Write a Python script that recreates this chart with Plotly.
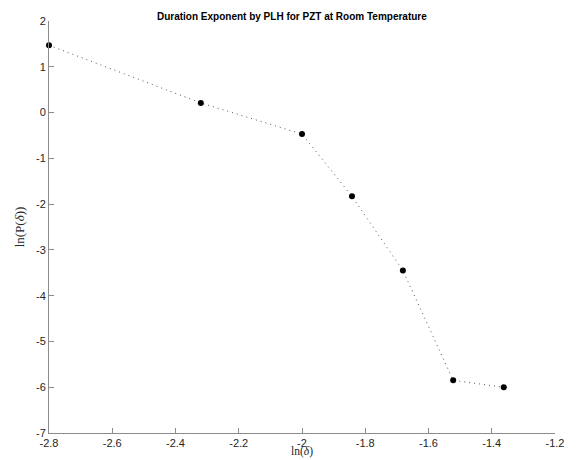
import plotly.graph_objects as go

# data
ln_delta = [-2.80, -2.32, -2.00, -1.842, -1.681, -1.522, -1.362]
ln_p = [1.47, 0.21, -0.47, -1.83, -3.45, -5.85, -6.00]

x_ticks = [-2.8, -2.6, -2.4, -2.2, -2.0, -1.8, -1.6, -1.4, -1.2]
x_ticklabels = ["-2.8", "-2.6", "-2.4", "-2.2", "-2", "-1.8", "-1.6", "-1.4", "-1.2"]
y_ticks = [2, 1, 0, -1, -2, -3, -4, -5, -6, -7]
y_ticklabels = ["2", "1", "0", "-1", "-2", "-3", "-4", "-5", "-6", "-7"]

fig = go.Figure()
# dotted connecting line, then the points on top
fig.add_trace(go.Scatter(
    x=ln_delta, y=ln_p,
    mode='lines',
    line=dict(color='#555555', width=1, dash='1px,4px'),
    showlegend=False))
fig.add_trace(go.Scatter(
    x=ln_delta, y=ln_p,
    mode='markers',
    marker=dict(color='black', size=6),
    cliponaxis=False,
    showlegend=False))

axis_style = dict(
    showgrid=False, zeroline=False, automargin=False,
    showline=True, linecolor='#8c8c8c', linewidth=1,
    ticks='inside', ticklen=5, tickcolor='#8c8c8c', tickwidth=1,
    tickfont=dict(family='Liberation Sans, Arial', size=11, color='#262626'),
)

fig.update_xaxes(range=[-2.8, -1.2], tickvals=x_ticks, ticktext=x_ticklabels, **axis_style)
fig.update_yaxes(range=[-7, 2], tickvals=y_ticks, ticktext=y_ticklabels,
                 title=dict(text='ln(P(<i>δ</i>))', standoff=8,
                            font=dict(family='Liberation Serif, DejaVu Serif', size=13, color='#262626')),
                 **axis_style)

# x title as an annotation so it can sit just under the tick labels
fig.add_annotation(text='ln(<i>δ</i>)', xref='paper', yref='paper', x=0.5, y=0,
                   xanchor='center', yanchor='top', yshift=-11, borderpad=0, showarrow=False,
                   font=dict(family='Liberation Serif, DejaVu Serif', size=11.5, color='#262626'))

# page body has an 8px margin, so the figure is a bit smaller than the window
fig.update_layout(
    width=573, height=452,
    margin=dict(l=41, r=26, t=13, b=27),
    paper_bgcolor='white', plot_bgcolor='white',
    title=dict(text='<b>Duration Exponent by PLH for PZT at Room Temperature</b>',
               x=0.48, xanchor='center', xref='paper', y=0.99, yanchor='top',
               font=dict(family='Liberation Sans, Arial', size=10, color='black')),
)

fig.write_html("out.html")
